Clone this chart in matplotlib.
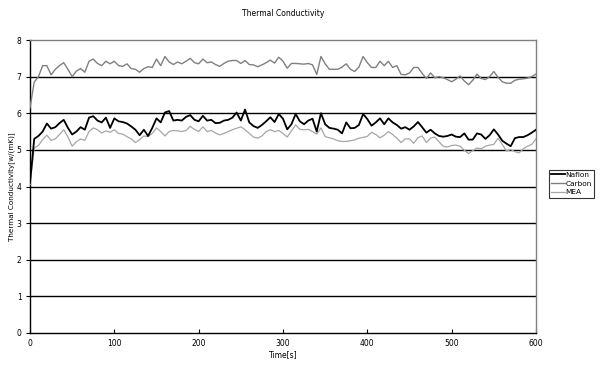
import numpy as np
import matplotlib
matplotlib.use("Agg")
import matplotlib.pyplot as plt

# Sampling times [s]
time_s = np.arange(0, 601, 5)

nafion = [
    4.1, 5.3, 5.38, 5.5, 5.72, 5.58, 5.62, 5.73, 5.82, 5.6,
    5.42, 5.5, 5.62, 5.55, 5.88, 5.92, 5.8, 5.75, 5.88, 5.6,
    5.86, 5.78, 5.76, 5.72, 5.64, 5.55, 5.4, 5.55, 5.38, 5.6,
    5.86, 5.75, 6.02, 6.06, 5.8, 5.82, 5.8, 5.9, 5.95, 5.82,
    5.78, 5.93, 5.8, 5.82, 5.73, 5.74, 5.8, 5.82, 5.88, 6.02,
    5.8, 6.1, 5.75, 5.65, 5.6, 5.68, 5.78, 5.89, 5.76, 5.98,
    5.85, 5.56, 5.7, 5.98, 5.78, 5.7, 5.8, 5.85, 5.5, 6.0,
    5.7, 5.6, 5.58, 5.55, 5.45, 5.75, 5.59, 5.6, 5.68, 5.98,
    5.84, 5.66, 5.75, 5.86, 5.7, 5.86, 5.75, 5.68, 5.58, 5.62,
    5.55, 5.64, 5.76, 5.62, 5.47, 5.55, 5.45, 5.38, 5.36, 5.38,
    5.42, 5.36, 5.35, 5.45, 5.28, 5.28, 5.45, 5.42, 5.3, 5.4,
    5.56, 5.42, 5.25, 5.17, 5.1, 5.32, 5.35, 5.35, 5.4, 5.47,
    5.55,
]

carbon = [
    6.15, 6.85, 7.0, 7.3, 7.3, 7.05, 7.2, 7.3, 7.38, 7.2,
    7.0, 7.15, 7.22, 7.12, 7.42, 7.48, 7.36, 7.3, 7.42, 7.35,
    7.42, 7.3, 7.28, 7.35, 7.22, 7.2, 7.12, 7.22, 7.27, 7.25,
    7.48, 7.3, 7.55, 7.4, 7.33, 7.4, 7.35, 7.42, 7.5, 7.38,
    7.35, 7.48, 7.38, 7.4, 7.33, 7.28, 7.36, 7.42, 7.44, 7.44,
    7.36, 7.44, 7.33, 7.32, 7.27, 7.32, 7.38, 7.45, 7.37, 7.53,
    7.42, 7.23, 7.36, 7.36, 7.35, 7.34, 7.36, 7.32, 7.06, 7.55,
    7.35, 7.2, 7.2, 7.2, 7.26, 7.35, 7.2, 7.14, 7.26, 7.55,
    7.38, 7.25, 7.25, 7.42, 7.3, 7.42, 7.25, 7.3, 7.06, 7.05,
    7.1, 7.25, 7.25, 7.09, 6.95, 7.1, 6.97, 7.0, 6.97, 6.92,
    6.86, 6.93, 7.02, 6.88, 6.78, 6.9, 7.07, 6.95, 6.92, 7.0,
    7.14, 6.98, 6.86, 6.82, 6.82, 6.9, 6.93, 6.94, 6.96, 7.0,
    7.07,
]

mea = [
    4.05, 5.05, 5.12, 5.28, 5.4, 5.26, 5.3, 5.42, 5.55, 5.35,
    5.1, 5.22, 5.3, 5.26, 5.5, 5.6, 5.55, 5.46, 5.52, 5.48,
    5.55, 5.45, 5.43, 5.36, 5.3, 5.2, 5.28, 5.38, 5.36, 5.45,
    5.6, 5.5, 5.38, 5.5, 5.53, 5.52, 5.5, 5.53, 5.64, 5.56,
    5.5, 5.63, 5.5, 5.53, 5.46, 5.41, 5.45, 5.5, 5.55, 5.59,
    5.63, 5.55, 5.45, 5.35, 5.32, 5.38, 5.5, 5.55, 5.5, 5.53,
    5.45, 5.35, 5.52, 5.68, 5.56, 5.55, 5.56, 5.5, 5.43, 5.6,
    5.36, 5.33, 5.3, 5.25, 5.23, 5.23, 5.25, 5.27, 5.32, 5.34,
    5.37, 5.48, 5.42, 5.33, 5.4, 5.5, 5.42, 5.32, 5.2, 5.3,
    5.3, 5.18, 5.33, 5.38, 5.2, 5.32, 5.35, 5.22, 5.1, 5.08,
    5.12, 5.13, 5.1, 4.99, 4.9, 4.98, 5.05, 5.03, 5.1, 5.13,
    5.15, 5.32, 5.15, 4.97, 5.01, 4.95, 4.92, 5.03, 5.1, 5.15,
    5.3,
]

x_ticks = [0, 100, 200, 300, 400, 500, 600]
y_ticks = [0, 1, 2, 3, 4, 5, 6, 7, 8]

plt.rcParams['font.family'] = ['DejaVu Sans']

fig = plt.figure(figsize=(6.01, 3.65), dpi=100)
ax = fig.add_axes([30 / 601, 32 / 365, 506 / 601, 293 / 365])

# horizontal grid lines
for v in y_ticks[1:-1]:
    ax.axhline(v, color='black', lw=1.0, zorder=1)

ax.plot(time_s, nafion, color='black', lw=1.3, label='Nafion', zorder=4)
ax.plot(time_s, carbon, color='#808080', lw=1.0, label='Carbon', zorder=3)
ax.plot(time_s, mea, color='#a6a6a6', lw=0.9, label='MEA', zorder=3)

ax.set_xlim(0, 600)
ax.set_ylim(0, 8)
ax.set_xticks(x_ticks)
ax.set_yticks(y_ticks)
ax.tick_params(axis='x', direction='in', length=3, width=0.8, labelsize=5.5, pad=4)
ax.tick_params(axis='y', direction='out', length=3, width=0.8, labelsize=5.5, pad=3)

for side in ('left', 'bottom'):
    ax.spines[side].set_color('black')
    ax.spines[side].set_linewidth(1.0)
for side in ('top', 'right'):
    ax.spines[side].set_color('#808080')
    ax.spines[side].set_linewidth(1.0)

ax.set_title('Thermal Conductivity', fontsize=5.5, pad=17)
ax.set_xlabel('Time[s]', fontsize=5.5, labelpad=2)
ax.set_ylabel('Thermal Conductivity[w/(mK)]', fontsize=5.2, labelpad=1.5)

leg = ax.legend(loc='center left', bbox_to_anchor=(1.026, 0.51), fontsize=5.3,
                frameon=True, fancybox=False, edgecolor='black',
                handlelength=1.8, handletextpad=0.1, borderpad=0.3,
                labelspacing=0.35, borderaxespad=0)
leg.get_frame().set_linewidth(0.8)

fig.savefig('out.png', dpi=100, facecolor='white')
